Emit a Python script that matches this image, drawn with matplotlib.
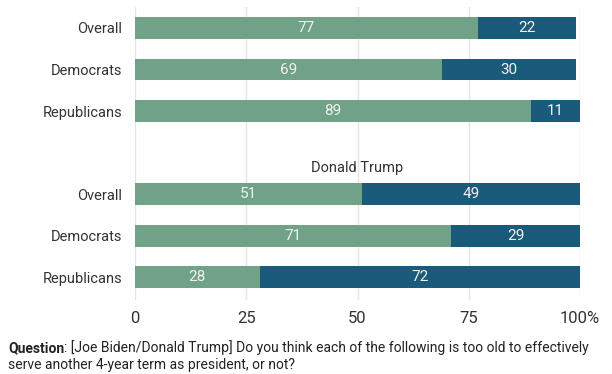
import numpy as np
import matplotlib
matplotlib.use("Agg")
import matplotlib.pyplot as plt

plt.rcParams['font.family'] = ['Roboto', 'DejaVu Sans']

# data
categories = ["Overall", "Democrats", "Republicans"]
biden_yes = [77, 69, 89]
biden_no = [22, 30, 11]
trump_yes = [51, 71, 28]
trump_no = [49, 29, 72]
group_title = "Donald Trump"
xticks = [0, 25, 50, 75, 100]
xticklabels = ["0", "25", "50", "75", "100%"]

green = "#6fa287"
blue = "#1a5b7c"
txt = "#333333"

fig = plt.figure(figsize=(6.12, 3.74), dpi=100)
W, H = 612, 374
ax = fig.add_axes([135/W, 1-300/H, 445/W, (300-7)/H])

pos_biden = np.arange(3)
pos_trump = np.arange(3) + 4
bh = 0.53

for pos, yes, no in [(pos_biden, biden_yes, biden_no), (pos_trump, trump_yes, trump_no)]:
    ax.barh(pos, yes, height=bh, color=green, zorder=2)
    ax.barh(pos, no, left=yes, height=bh, color=blue, zorder=2)
    for p, a, b in zip(pos, yes, no):
        ax.text(a/2, p, str(a), ha='center', va='center', color='#f2f2f2', fontsize=11)
        ax.text(a + b/2, p, str(b), ha='center', va='center', color='#f2f2f2', fontsize=11)

ax.text(50, 3.37, group_title, ha='center', va='center', color=txt, fontsize=10.5)

ax.set_xlim(0, 100)
ax.set_ylim(6.554, -0.506)
ax.set_yticks(list(pos_biden) + list(pos_trump))
ax.set_yticklabels(categories + categories, fontsize=10.5, color=txt)
ax.set_xticks(xticks)
ax.set_xticklabels(xticklabels, fontsize=12, color=txt)
ax.tick_params(axis='both', length=0)
ax.tick_params(axis='y', pad=9)
ax.tick_params(axis='x', pad=8)
ax.grid(axis='x', color='#e4e4e4', linewidth=1, zorder=0)
ax.set_axisbelow(True)
for s in ax.spines.values():
    s.set_visible(False)

t1 = fig.text(8/W, 1-348/H, "Question", fontsize=10, fontweight='bold', color='#222222', va='center')
ax.annotate(": [Joe Biden/Donald Trump] Do you think each of the following is too old to effectively",
            xy=(1, 0.5), xycoords=t1, va='center', fontsize=10, color='#222222',
            annotation_clip=False)
fig.text(8/W, 1-365/H, "serve another 4-year term as president, or not?", fontsize=10, color='#222222', va='center')

fig.savefig("out.png", dpi=100)
